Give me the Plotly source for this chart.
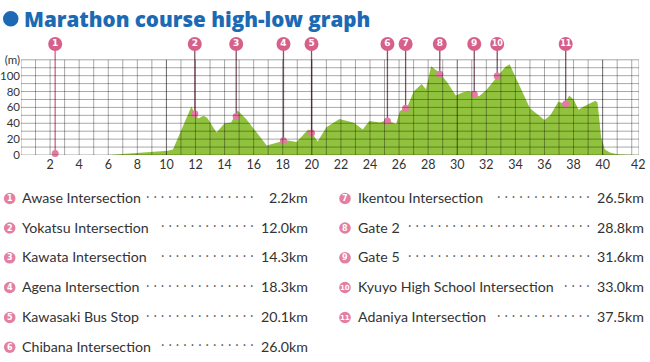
import plotly.graph_objects as go

# ---------------- data ----------------
profile_km = [6.0, 8.0, 10.1, 10.45, 11.0, 11.72, 11.95, 12.2, 12.55, 12.8, 13.45, 14.0, 14.45,
              14.9, 15.5, 16.0, 16.45, 16.9, 17.7, 18.15, 18.95, 19.75, 20.0, 20.4, 21.0, 21.9,
              22.9, 23.5, 23.95, 24.7, 25.15, 25.8, 26.05, 26.6, 27.0, 27.55, 27.85, 28.2, 28.75,
              29.3, 29.9, 30.4, 30.8, 31.1, 31.5, 32.0, 32.8, 33.3, 33.6, 34.0, 35.0, 36.0, 36.4,
              36.95, 37.4, 37.7, 38.0, 38.35, 38.7, 39.5, 39.65, 39.9, 40.15, 40.5, 41.0, 42.0, 42.5]
profile_m = [0, 2.5, 5.5, 7, 30, 61, 52, 46, 49.5, 47, 28.5, 40, 41,
             56, 45, 33, 23, 12, 16, 19, 16.5, 32, 28, 17, 35, 45.5,
             40.5, 32, 43, 41, 44, 39, 55, 62, 80, 89.5, 83, 112, 104,
             92, 75, 79, 80.5, 78, 74, 82, 100, 111, 114.5, 98, 59, 44, 50,
             67, 64.5, 75, 70, 57, 61, 68.5, 66, 22, 7, 3, 1, 0.3, 0]

pin_km = [2.35, 11.95, 14.8, 18.05, 19.98, 25.2, 26.45, 28.8, 31.17, 32.75, 37.46]
pin_m = [2, 52, 48.5, 18, 27.6, 43, 59, 101.7, 76.6, 99.6, 64.4]
pin_labels = ["1", "2", "3", "4", "5", "6", "7", "8", "9", "10", "11"]
pin_top = 140

place_names = ["Awase Intersection", "Yokatsu Intersection", "Kawata Intersection",
               "Agena Intersection", "Kawasaki Bus Stop", "Chibana Intersection",
               "Ikentou Intersection", "Gate 2", "Gate 5",
               "Kyuyo High School Intersection", "Adaniya Intersection"]
place_dist = ["2.2km", "12.0km", "14.3km", "18.3km", "20.1km", "26.0km",
              "26.5km", "28.8km", "31.6km", "33.0km", "37.5km"]
dots_count = [15, 13, 13, 15, 15, 13, 13, 25, 25, 4, 13]

x_tickvals = [2, 4, 6, 8, 10, 12, 14, 16, 18, 20, 22, 24, 26, 28, 30, 32, 34, 36, 38, 40, 42.45]
x_ticktext = ["2", "4", "6", "8", "10", "12", "14", "16", "18", "20", "22", "24", "26", "28",
              "30", "32", "34", "36", "38", "40", "42"]
y_tickvals = [0, 20, 40, 60, 80, 100, 120]
y_ticktext = ["0", "20", "40", "60", "80", "100", "(m)"]

# ---------------- layout helpers ----------------
W, H = 650, 362
ML, MR, MT, MB = 21, 11, 36, 207
PW, PH = W - ML - MR, H - MT - MB


def px(x):
    return (x - ML) / PW


def py(y):
    return (H - MB - y) / PH


GREEN = "rgba(130,186,34,0.88)"
PINK = "#d6608a"
PINK_L = "#e27fa3"
BLUE = "#1b6ab3"
TEXT = "#333333"

fig = go.Figure()

fig.add_trace(go.Scatter(x=profile_km, y=profile_m, mode="lines", line=dict(width=0, color=GREEN),
                         fill="tozeroy", fillcolor=GREEN, hoverinfo="skip", showlegend=False))

# pin lines
lx, ly = [], []
for k, m in zip(pin_km[1:], pin_m[1:]):
    lx += [k, k, None]
    ly += [m, pin_top, None]
fig.add_trace(go.Scatter(x=lx, y=ly, mode="lines", line=dict(width=1.3, color="#7d5566"),
                         hoverinfo="skip", showlegend=False))
fig.add_trace(go.Scatter(x=pin_km[:1] * 2, y=[pin_m[0], pin_top], mode="lines",
                         line=dict(width=1.3, color=PINK), hoverinfo="skip", showlegend=False))
fig.add_trace(go.Scatter(x=pin_km, y=pin_m, mode="markers", marker=dict(size=7, color="#e57ba3"),
                         hoverinfo="skip", showlegend=False, cliponaxis=False))
fig.add_trace(go.Scatter(x=pin_km, y=[pin_top] * len(pin_km), mode="markers+text",
                         marker=dict(size=14, color=PINK), text=pin_labels,
                         textfont=dict(family="DejaVu Sans", size=[9] * 9 + [8, 8], color="white",
                                       weight="bold"),
                         textposition="middle center", hoverinfo="skip", showlegend=False,
                         cliponaxis=False))

shapes = []
# grid, drawn above the fill
GRID = "rgba(0,0,0,0.34)"
for k in range(0, 43):
    dark = k in (10, 20, 30, 40)
    shapes.append(dict(type="line", xref="x", yref="y", x0=k, x1=k, y0=0, y1=120, layer="above",
                       line=dict(width=1, color="rgba(0,0,0,0.6)" if dark else GRID)))
shapes.append(dict(type="line", xref="x", yref="y", x0=42.5, x1=42.5, y0=0, y1=120, layer="above",
                   line=dict(width=1, color=GRID)))
for m in range(0, 121, 10):
    shapes.append(dict(type="line", xref="x", yref="y", x0=0, x1=42.5, y0=m, y1=m, layer="above",
                       line=dict(width=1, color=GRID)))

annotations = []
# title
shapes.append(dict(type="circle", xref="paper", yref="paper", x0=px(3), x1=px(18.5),
                   y0=py(26.5), y1=py(11), fillcolor=BLUE, line=dict(width=0)))
annotations.append(dict(xref="paper", yref="paper", x=px(22), y=py(19), xanchor="left",
                        yanchor="middle", showarrow=False, text="Marathon course high-low graph",
                        font=dict(family="Open Sans", size=20.6, color=BLUE, weight=800)))

# list
row_y = [197.5, 227, 256.8, 286.5, 316.5, 346.2]
for i, (name, dist, nd) in enumerate(zip(place_names, place_dist, dots_count)):
    col = 0 if i < 6 else 1
    ry = row_y[i if i < 6 else i - 6]
    cx = 9.7 if col == 0 else 345
    tx = 19.5 if col == 0 else 355.5
    dend = 258 if col == 0 else 594
    kend = 310 if col == 0 else 646
    shapes.append(dict(type="circle", xref="paper", yref="paper", x0=px(cx - 5.8), x1=px(cx + 5.8),
                       y0=py(ry + 6.8), y1=py(ry - 4.8), fillcolor=PINK_L, line=dict(width=0)))
    annotations.append(dict(xref="paper", yref="paper", x=px(cx), y=py(ry + 1), xanchor="center",
                            yanchor="middle", showarrow=False, text="<b>%d</b>" % (i + 1),
                            font=dict(family="DejaVu Sans", size=8 if i < 9 else 7, color="white")))
    annotations.append(dict(xref="paper", yref="paper", x=px(tx), y=py(ry), xanchor="left",
                            yanchor="middle", showarrow=False, text=name,
                            font=dict(family="Lato", size=14.2, color=TEXT)))
    annotations.append(dict(xref="paper", yref="paper", x=px(dend), y=py(ry), xanchor="right",
                            yanchor="middle", showarrow=False, text="·" * nd,
                            font=dict(family="Liberation Mono", size=12.4, color="#666666")))
    annotations.append(dict(xref="paper", yref="paper", x=px(kend), y=py(ry), xanchor="right",
                            yanchor="middle", showarrow=False, text=dist,
                            font=dict(family="Lato", size=14.2, color=TEXT)))

fig.update_layout(
    width=W, height=H, margin=dict(l=ML, r=MR, t=MT, b=MB, autoexpand=False),
    paper_bgcolor="white", plot_bgcolor="white", showlegend=False,
    shapes=shapes, annotations=annotations,
    xaxis=dict(range=[0, 42.5], showgrid=False, zeroline=False, showline=False, ticks="",
               automargin=False,
               tickmode="array", tickvals=x_tickvals, ticktext=x_ticktext,
               tickfont=dict(family="Lato", size=12.5, color=TEXT), fixedrange=True),
    yaxis=dict(range=[0, 150], showgrid=False, zeroline=False, showline=False, ticks="",
               automargin=False,
               tickmode="array", tickvals=y_tickvals, ticktext=y_ticktext,
               tickfont=dict(family="Lato", size=11.5, color=TEXT), fixedrange=True),
)

fig.write_html("out.html", config={"displayModeBar": False},
               post_script="document.body.style.margin='0';")
